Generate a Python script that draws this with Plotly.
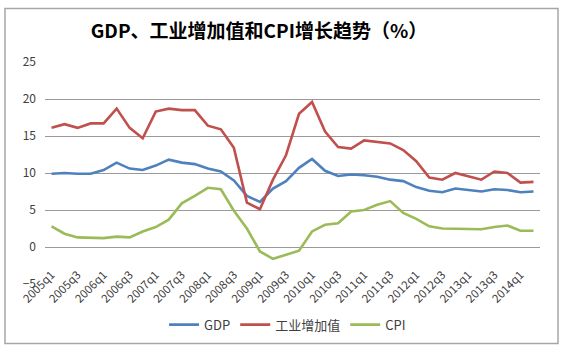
import plotly.graph_objects as go

quarters = [f"{y}q{q}" for y in range(2005, 2015) for q in range(1, 5)][:38]

gdp = [9.9, 10.0, 9.9, 9.9, 10.4, 11.4, 10.6, 10.4, 11.0, 11.8,
       11.4, 11.2, 10.6, 10.2, 9.0, 6.9, 6.1, 7.9, 8.9, 10.7,
       11.9, 10.3, 9.6, 9.8, 9.7, 9.5, 9.1, 8.9, 8.1, 7.6,
       7.4, 7.9, 7.7, 7.5, 7.8, 7.7, 7.4, 7.5]

iva = [16.1, 16.6, 16.1, 16.7, 16.7, 18.7, 16.1, 14.7, 18.3, 18.7,
       18.5, 18.5, 16.4, 15.9, 13.4, 6.0, 5.1, 9.1, 12.4, 18.0,
       19.6, 15.6, 13.5, 13.3, 14.4, 14.2, 14.0, 13.1, 11.6, 9.4,
       9.1, 10.0, 9.5, 9.1, 10.2, 10.0, 8.7, 8.8]

cpi = [2.8, 1.8, 1.3, 1.2, 1.2, 1.4, 1.3, 2.1, 2.7, 3.7,
       5.9, 6.9, 8.0, 7.8, 4.9, 2.5, -0.6, -1.6, -1.1, -0.5,
       2.1, 3.0, 3.2, 4.8, 5.0, 5.7, 6.2, 4.6, 3.8, 2.8,
       2.5, 2.5, 2.4, 2.4, 2.7, 2.9, 2.2, 2.2]

tick_labels = quarters[::2]

series_names = ["GDP", "工业增加值", "CPI"]
colors = ["#4F81BD", "#C0504D", "#9BBB59"]

font_family = "Noto Sans CJK SC, Noto Sans, sans-serif"

fig = go.Figure()
for name, vals, col in zip(series_names, [gdp, iva, cpi], colors):
    fig.add_trace(go.Scatter(x=quarters, y=vals, name=name, mode="lines",
                             line=dict(color=col, width=2.6)))

fig.update_layout(
    width=563, height=352,
    margin=dict(l=45, r=23, t=62, b=66),
    paper_bgcolor="white", plot_bgcolor="white",
    font=dict(family=font_family, color="#404040", size=12),
    title=dict(text="<b>GDP、工业增加值和CPI增长趋势（%）</b>",
               x=259 / 563, xanchor="center", y=1 - 31 / 352, yanchor="middle",
               font=dict(size=19, color="#000000", family=font_family)),
    showlegend=True,
    legend=dict(orientation="h", x=0.49, xanchor="center",
                y=-0.183, yanchor="middle",
                font=dict(size=13, color="#404040"),
                itemwidth=30, tracegroupgap=0),
    xaxis=dict(type="category", categoryorder="array", categoryarray=quarters,
               tickmode="array", tickvals=tick_labels, ticktext=tick_labels,
               tickangle=-45, showgrid=False, showline=False, zeroline=False,
               anchor="free", position=1 / 6, ticks="",
               tickfont=dict(size=11.5, color="#404040"),
               ticklabelstandoff=18,
               range=[-0.5, len(quarters) - 0.5]),
    yaxis=dict(range=[-5, 25], dtick=5, tick0=0, showgrid=True,
               gridcolor="#9a9a9a", gridwidth=1, zeroline=False,
               showline=False, ticks="", ticklabelstandoff=8,
               tickfont=dict(size=12, color="#404040")),
    shapes=[dict(type="rect", xref="paper", yref="paper",
                 x0=(5 - 45) / 495, x1=(558 - 45) / 495,
                 y0=(286 - 346) / 224, y1=(286 - 8) / 224,
                 line=dict(color="#a6a6a6", width=1.5), layer="below")],
)

fig.write_html("out.html")
